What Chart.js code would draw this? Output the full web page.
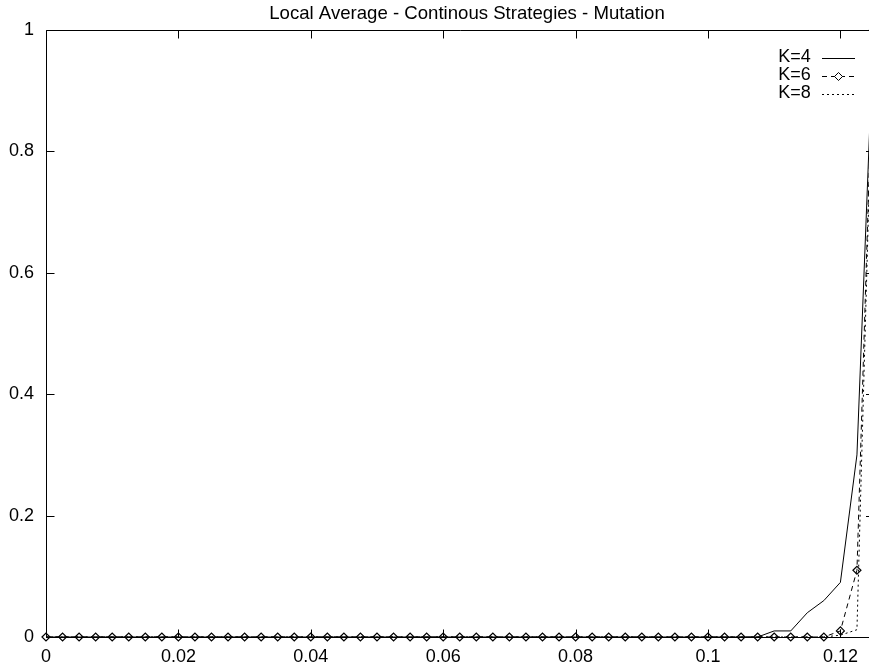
<!DOCTYPE html>
<html>
<head>
<meta charset="utf-8">
<title>Local Average - Continous Strategies - Mutation</title>
<script src="https://cdn.jsdelivr.net/npm/chart.js@4.4.1/dist/chart.umd.min.js"></script>
<style>
  html, body { margin: 0; padding: 0; background: #fff; overflow: hidden; }
  #wrap { width: 869px; height: 666px; overflow: hidden; }
  canvas { display: block; }
</style>
</head>
<body>
<div id="wrap"><canvas id="chart"></canvas></div>
<script>
// mutation rate (x) and the share of runs for each neighbourhood size K
const mutationRates = [
  0, 0.0025, 0.005, 0.0075, 0.01, 0.0125, 0.015, 0.0175, 0.02, 0.0225,
  0.025, 0.0275, 0.03, 0.0325, 0.035, 0.0375, 0.04, 0.0425, 0.045, 0.0475,
  0.05, 0.0525, 0.055, 0.0575, 0.06, 0.0625, 0.065, 0.0675, 0.07, 0.0725,
  0.075, 0.0775, 0.08, 0.0825, 0.085, 0.0875, 0.09, 0.0925, 0.095, 0.0975,
  0.1, 0.1025, 0.105, 0.1075, 0.11, 0.1125, 0.115, 0.1175, 0.12, 0.1225,
  0.125
];
const k4Values = [
  0, 0, 0, 0, 0, 0, 0, 0, 0, 0,
  0, 0, 0, 0, 0, 0, 0, 0, 0, 0,
  0, 0, 0, 0, 0, 0, 0, 0, 0, 0,
  0, 0, 0, 0, 0, 0, 0, 0, 0, 0,
  0, 0, 0, 0, 0.01, 0.01, 0.04, 0.06, 0.09, 0.3,
  1
];
const k6Values = [
  0, 0, 0, 0, 0, 0, 0, 0, 0, 0,
  0, 0, 0, 0, 0, 0, 0, 0, 0, 0,
  0, 0, 0, 0, 0, 0, 0, 0, 0, 0,
  0, 0, 0, 0, 0, 0, 0, 0, 0, 0,
  0, 0, 0, 0, 0, 0, 0, 0, 0.01, 0.11,
  1
];
const k8Values = [
  0, 0, 0, 0, 0, 0, 0, 0, 0, 0,
  0, 0, 0, 0, 0, 0, 0, 0, 0, 0,
  0, 0, 0, 0, 0, 0, 0, 0, 0, 0,
  0, 0, 0, 0, 0, 0, 0, 0, 0, 0,
  0, 0, 0, 0, 0, 0, 0, 0, 0.003, 0.012,
  1
];
const xTicks = [0, 0.02, 0.04, 0.06, 0.08, 0.1, 0.12];
const xTickLabels = ['0', '0.02', '0.04', '0.06', '0.08', '0.1', '0.12'];
const yTicks = [0, 0.2, 0.4, 0.6, 0.8, 1];
const yTickLabels = ['0', '0.2', '0.4', '0.6', '0.8', '1'];

const FONT = '"Liberation Sans", Arial, Helvetica, sans-serif';

function points(values) {
  return mutationRates.map((x, i) => ({ x: x, y: values[i] }));
}

// gnuplot style box: full border, ticks pointing inwards on all four sides, key inside top right
const gnuplotFrame = {
  id: 'gnuplotFrame',
  afterDraw(chart) {
    const ctx = chart.ctx;
    const a = chart.chartArea;
    const xs = chart.scales.x, ys = chart.scales.y;
    const L = Math.round(a.left) + 0.5, R = a.right + 0.5;
    const T = Math.round(a.top) + 0.5, B = Math.round(a.bottom) + 0.5;
    const tick = 8;

    ctx.save();
    ctx.strokeStyle = '#000';
    ctx.lineWidth = 1;
    ctx.setLineDash([]);
    ctx.beginPath();
    ctx.rect(L, T, R - L, B - T);
    xTicks.forEach(v => {
      const px = Math.round(xs.getPixelForValue(v)) + 0.5;
      ctx.moveTo(px, B); ctx.lineTo(px, B - tick);
      ctx.moveTo(px, T); ctx.lineTo(px, T + tick);
    });
    yTicks.forEach(v => {
      const py = Math.round(ys.getPixelForValue(v)) + 0.5;
      ctx.moveTo(L, py); ctx.lineTo(L + tick, py);
      ctx.moveTo(R, py); ctx.lineTo(R - tick, py);
    });
    ctx.stroke();

    // key
    ctx.font = '18px ' + FONT;
    ctx.fillStyle = '#000';
    ctx.textAlign = 'right';
    ctx.textBaseline = 'middle';
    const textRight = a.right - 62.8;
    const sx0 = a.right - 51.5, sx1 = a.right - 18.5;
    chart.data.datasets.forEach((ds, i) => {
      const y = a.top + 27.5 + i * 18;
      ctx.fillText(ds.label, textRight, y);
      ctx.beginPath();
      ctx.setLineDash(ds.borderDash || []);
      ctx.moveTo(sx0, Math.round(y) + 0.5);
      ctx.lineTo(sx1, Math.round(y) + 0.5);
      ctx.stroke();
      if (ds.pointRadius > 0) {
        const cx = (sx0 + sx1) / 2, cy = Math.round(y) + 0.5, r = ds.pointRadius;
        ctx.setLineDash([]);
        ctx.fillStyle = '#fff';
        ctx.beginPath();
        ctx.moveTo(cx - r, cy); ctx.lineTo(cx, cy - r);
        ctx.lineTo(cx + r, cy); ctx.lineTo(cx, cy + r);
        ctx.closePath();
        ctx.fill();
        ctx.stroke();
        ctx.fillStyle = '#000';
      }
    });
    ctx.restore();
  }
};

const canvas = document.getElementById('chart');
canvas.width = 934;
canvas.height = 666;
canvas.style.width = '934px';
canvas.style.height = '666px';

new Chart(canvas.getContext('2d'), {
  type: 'line',
  data: {
    datasets: [
      {
        label: 'K=4',
        data: points(k4Values),
        borderColor: '#000',
        borderWidth: 1,
        pointRadius: 0,
        tension: 0,
        clip: 8
      },
      {
        label: 'K=6',
        data: points(k6Values),
        borderColor: '#000',
        borderWidth: 1,
        borderDash: [5, 4],
        pointStyle: 'rectRot',
        pointRadius: 4,
        pointBorderWidth: 1.2,
        pointBorderColor: '#000',
        pointBackgroundColor: 'rgba(0,0,0,0)',
        tension: 0,
        clip: 8
      },
      {
        label: 'K=8',
        data: points(k8Values),
        borderColor: '#000',
        borderWidth: 1,
        borderDash: [2, 3],
        pointRadius: 0,
        tension: 0,
        clip: 8
      }
    ]
  },
  options: {
    responsive: false,
    devicePixelRatio: 1,
    animation: false,
    events: [],
    layout: { padding: 0 },
    plugins: {
      legend: { display: false },
      tooltip: { enabled: false },
      title: {
        display: true,
        text: 'Local Average - Continous Strategies - Mutation',
        color: '#000',
        font: { family: FONT, size: 18.6, weight: 'normal' },
        padding: { top: 3, bottom: 4.7 }
      }
    },
    scales: {
      x: {
        type: 'linear',
        min: 0,
        max: 0.125,
        afterBuildTicks: s => { s.ticks = xTicks.map(v => ({ value: v })); },
        afterFit: s => { s.height = 29; },
        grid: { display: false, drawTicks: false },
        border: { display: false },
        ticks: {
          callback: (v, i) => xTickLabels[i],
          color: '#000',
          font: { family: FONT, size: 18 },
          padding: 9,
          maxRotation: 0,
          autoSkip: false
        }
      },
      y: {
        type: 'linear',
        min: 0,
        max: 1,
        afterBuildTicks: s => { s.ticks = yTicks.map(v => ({ value: v })); },
        afterFit: s => { s.width = 46; },
        grid: { display: false, drawTicks: false },
        border: { display: false },
        ticks: {
          callback: (v, i) => yTickLabels[i],
          color: '#000',
          font: { family: FONT, size: 18 },
          padding: 12
        }
      },
      yRight: {
        type: 'linear',
        position: 'right',
        afterFit: s => { s.width = 60.5; },
        grid: { display: false, drawTicks: false },
        border: { display: false },
        ticks: { display: false }
      }
    }
  },
  plugins: [gnuplotFrame]
});
</script>
</body>
</html>
